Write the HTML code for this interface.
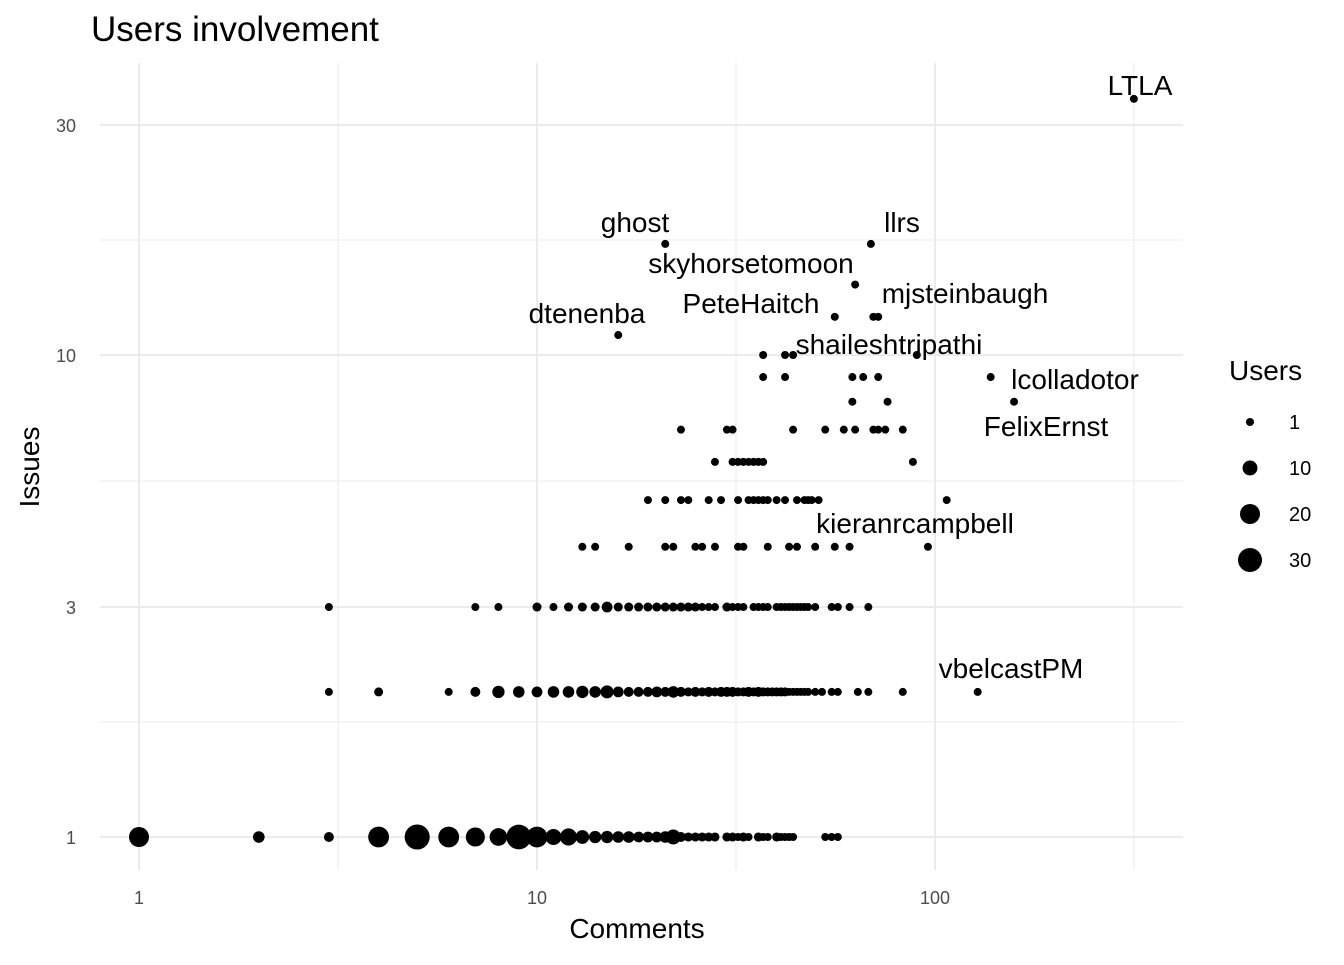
<!DOCTYPE html>
<html><head><meta charset="utf-8"><style>
body{margin:0;background:#fff;font-family:"Liberation Sans",sans-serif}
svg text{font-family:"Liberation Sans",sans-serif}
</style></head><body>
<svg id="chart" width="1344" height="960">
<text x="91" y="41" font-size="35" fill="#000">Users involvement</text>
<g id="grid"></g><g id="points"></g><g id="labels"></g><g id="axes"></g>
<text x="637" y="938" font-size="28" text-anchor="middle">Comments</text>
<text transform="translate(39,467) rotate(-90)" font-size="28" text-anchor="middle">Issues</text>
<g id="legend"></g>
</svg>
<script>
// data: comments, issues, users per point
const row1Comments=[1,2,3,4,5,6,7,8,9,10,11,12,13,14,15,16,17,18,19,20,21,22,23,24,25,26,27,28,30,31,32,33,34,36,37,38,40,41,42,43,44,53,55,57];
const row1Users=[20,5,3,22,33,22,18,15,32,22,12,14,8,6,6,5,5,4,4,4,5,10,3,2,2,2,2,2,2,2,1,2,1,2,1,1,2,1,1,1,1,1,1,1];
const row2Comments=[3,4,6,7,8,9,10,11,12,13,14,15,16,17,18,19,20,21,22,23,24,25,26,27,28,29,30,31,32,33,34,35,36,37,38,39,40,41,42,43,44,45,46,47,48,50,52,55,57,64,68,83,128];
const row2Users=[1,2,1,3,6,5,4,5,5,6,5,7,4,3,3,3,4,3,5,3,2,3,2,3,2,3,3,3,2,2,3,2,3,2,2,2,2,2,2,1,1,1,1,1,1,1,1,1,1,1,1,1,1];
const row3Comments=[3,7,8,10,11,12,13,14,15,16,17,18,19,20,21,22,23,24,25,26,27,28,30,31,32,33,35,36,37,38,40,41,42,43,44,45,46,47,48,50,55,57,61,68];
const row3Users=[1,1,1,2,1,2,2,2,4,2,2,2,2,2,2,2,2,2,2,1,1,1,2,1,1,1,1,1,1,1,1,1,1,1,1,1,1,1,1,1,1,1,1,1];
const row4Comments=[13,14,17,21,22,25,26,28,32,33,38,43,45,50,56,61,96];
const row5Comments=[19,21,23,24,27,29,32,34,35,36,37,38,40,42,45,47,48,49,51,107];
const row6Comments=[28,31,32,33,34,35,36,37,88];
const row7Comments=[23,30,31,44,53,59,63,70,72,75,83];
const row8Comments=[62,76,158];
const row9Comments=[37,42,62,66,72,138];
const row10Comments=[37,42,44,90];
const extraComments=[16,56,70,72,63,21,69,316];
const extraIssues=[11,12,12,12,14,17,17,34];
const labelNames=["LTLA","ghost","llrs","skyhorsetomoon","PeteHaitch","mjsteinbaugh","dtenenba","shaileshtripathi","lcolladotor","FelixErnst","kieranrcampbell","vbelcastPM"];
const labelX=[1140,635,902,751,751,965,587,889,1075,1046,915,1011];
const labelY=[95,232,232,273,313,303,323,354,389,436,533,678];
const xTicks=[1,10,100];
const yTicks=[1,3,10,30];
const legendValues=[1,10,20,30];

const NS="http://www.w3.org/2000/svg";
function xs(c){return 139+398*Math.log10(c);}
function ys(v){return 837-482*Math.log10(v);}
function rs(u){return Math.sqrt(16+(u-1)/29*(144-16));}
function mk(tag,attrs,parent){const e=document.createElementNS(NS,tag);for(const k in attrs)e.setAttribute(k,attrs[k]);parent.appendChild(e);return e;}
const grid=document.getElementById('grid'),pts=document.getElementById('points'),axes=document.getElementById('axes'),lab=document.getElementById('labels'),leg=document.getElementById('legend');
const L=100,R=1183,T=63,B=870;
[Math.sqrt(10),Math.sqrt(1000),Math.sqrt(100000)].forEach(v=>{const e=mk('line',{x1:xs(v),x2:xs(v),y1:T,y2:B,stroke:'#ebebeb','stroke-width':1},grid);

});
[Math.sqrt(3),Math.sqrt(30),Math.sqrt(300)].forEach(v=>{const e=mk('line',{x1:L,x2:R,y1:ys(v),y2:ys(v),stroke:'#ebebeb','stroke-width':1},grid);

});
xTicks.forEach(v=>{const e=mk('line',{x1:xs(v),x2:xs(v),y1:T,y2:B,stroke:'#ebebeb','stroke-width':2},grid);


const t=mk('text',{x:xs(v),y:904,'font-size':18,fill:'#4d4d4d','text-anchor':'middle'},axes);t.textContent=v;

});
yTicks.forEach(v=>{const e=mk('line',{x1:L,x2:R,y1:ys(v),y2:ys(v),stroke:'#ebebeb','stroke-width':2},grid);


const t=mk('text',{x:76,y:ys(v)+7,'font-size':18,fill:'#4d4d4d','text-anchor':'end'},axes);t.textContent=v;

});
function dot(c,i,u){const e=mk('circle',{cx:xs(c),cy:ys(i),r:rs(u),fill:'#000'},pts);

}
row1Comments.forEach((c,k)=>dot(c,1,row1Users[k]));
row2Comments.forEach((c,k)=>dot(c,2,row2Users[k]));
row3Comments.forEach((c,k)=>dot(c,3,row3Users[k]));
[[row4Comments,4],[row5Comments,5],[row6Comments,6],[row7Comments,7],[row8Comments,8],[row9Comments,9],[row10Comments,10]].forEach(([a,i])=>a.forEach(c=>dot(c,i,1)));
extraComments.forEach((c,k)=>dot(c,extraIssues[k],1));
labelNames.forEach((n,k)=>{const t=mk('text',{x:labelX[k],y:labelY[k],'font-size':28,'text-anchor':'middle'},lab);t.textContent=n;

});
const lt=mk('text',{x:1229,y:380,'font-size':28},leg);lt.textContent='Users';


legendValues.forEach((v,k)=>{const y=422+k*46;
const c=mk('circle',{cx:1250,cy:y,r:rs(v),fill:'#000'},leg);


const t=mk('text',{x:1289,y:y+7,'font-size':20},leg);t.textContent=v;

});
</script>
</body></html>
